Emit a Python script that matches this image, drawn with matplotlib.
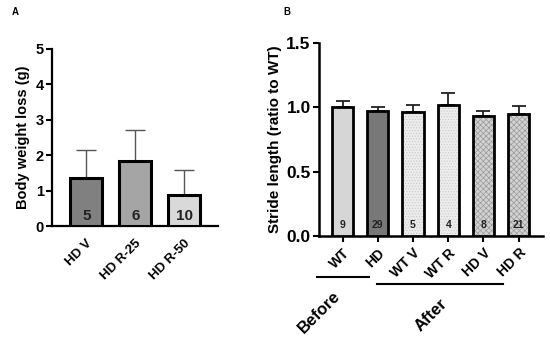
import matplotlib
matplotlib.use("Agg")
import matplotlib.pyplot as plt

plt.rcParams['font.family'] = ['Liberation Sans', 'DejaVu Sans']
plt.rcParams['font.weight'] = 'bold'
plt.rcParams['hatch.linewidth'] = 0.5

# Panel A data
a_cats = ["HD V", "HD R-25", "HD R-50"]
a_vals = [1.35, 1.83, 0.88]
a_err = [0.79, 0.89, 0.69]
a_n = ["5", "6", "10"]
a_colors = ["#808080", "#a5a5a5", "#d9d9d9"]

# Panel B data
b_cats = ["WT", "HD", "WT V", "WT R", "HD V", "HD R"]
b_vals = [1.00, 0.97, 0.965, 1.02, 0.93, 0.95]
b_err = [0.05, 0.03, 0.05, 0.09, 0.04, 0.06]
b_n = ["9", "29", "5", "4", "8", "21"]
b_colors = ["#d6d6d6", "#787878", "#ececec", "#ececec", "#d2d2d2", "#d2d2d2"]
b_hatch = [None, None, "......", "......", "xxxxxx", "xxxxxx"]
b_hatchcol = [None, None, "#c8c8c8", "#cccccc", "#9a9a9a", "#9a9a9a"]
groups = ["Before", "After"]

fig = plt.figure(figsize=(5.5, 3.37), dpi=100)

def W(px):
    return px / 550.0

def H(py):
    return 1 - py / 337.0

# ---- Panel A ----
axA = fig.add_axes([W(52), H(226), W(218 - 52), H(49) - H(226)])
xa = list(range(len(a_cats)))
axA.bar(xa, a_vals, width=0.66, color=a_colors, edgecolor="black", linewidth=2.2, zorder=3)
axA.errorbar(xa, a_vals, yerr=[[0] * 3, a_err], fmt="none", ecolor="#555555",
             elinewidth=1.0, capsize=7, capthick=1.0, zorder=2)
for x, n in zip(xa, a_n):
    axA.text(x, 0.27, n, ha="center", va="center", fontsize=11, fontweight="bold",
             color="#222222", zorder=4)
axA.set_xlim(-0.70, 2.69)
axA.set_ylim(0, 5)
axA.set_yticks([0, 1, 2, 3, 4, 5])
axA.set_xticks(xa)
axA.set_xticklabels(a_cats, rotation=45, ha="right", rotation_mode="anchor",
                    fontsize=9.5, fontweight="bold")
axA.tick_params(axis="x", length=0, pad=8)
axA.tick_params(axis="y", labelsize=10.5, width=1.5, length=4, pad=2)
for s in ["top", "right"]:
    axA.spines[s].set_visible(False)
for s in ["left", "bottom"]:
    axA.spines[s].set_linewidth(1.6)
axA.set_ylabel("Body weight loss (g)", fontsize=10.5, fontweight="bold", labelpad=4)
fig.text(W(12), H(12), "A", fontsize=7, fontweight="bold", ha="left", va="center")

# ---- Panel B ----
axB = fig.add_axes([W(319), H(236), W(543 - 319), H(43) - H(236)])
xb = list(range(len(b_cats)))
for x, v, c, h, hc in zip(xb, b_vals, b_colors, b_hatch, b_hatchcol):
    if h:
        axB.bar(x, v, width=0.6, color=c, edgecolor=hc, hatch=h, linewidth=0, zorder=3)
        axB.bar(x, v, width=0.6, fill=False, edgecolor="black", linewidth=2.0, zorder=4)
    else:
        axB.bar(x, v, width=0.6, color=c, edgecolor="black", linewidth=2.0, zorder=3)
axB.errorbar(xb, b_vals, yerr=[[0] * 6, b_err], fmt="none", ecolor="#222222",
             elinewidth=1.3, capsize=5, capthick=1.3, zorder=2)
for x, n in zip(xb, b_n):
    axB.text(x, 0.085, n, ha="center", va="center", fontsize=7.5, fontweight="bold",
             color="#222222", zorder=5)
axB.set_xlim(-0.67, 5.69)
axB.set_ylim(0, 1.5)
axB.set_yticks([0.0, 0.5, 1.0, 1.5])
axB.set_yticklabels(["0.0", "0.5", "1.0", "1.5"])
axB.set_xticks(xb)
axB.set_xticklabels(b_cats, rotation=45, ha="right", rotation_mode="anchor",
                    fontsize=10, fontweight="bold")
axB.tick_params(axis="x", length=4, width=1.5, pad=3)
axB.tick_params(axis="y", labelsize=12.5, width=1.5, length=4, pad=2)
for s in ["top", "right"]:
    axB.spines[s].set_visible(False)
for s in ["left", "bottom"]:
    axB.spines[s].set_linewidth(1.8)
axB.set_ylabel("Stride length (ratio to WT)", fontsize=11, fontweight="bold", labelpad=3)
fig.text(W(283), H(12), "B", fontsize=7, fontweight="bold", ha="left", va="center")

# group lines
fig.add_artist(plt.Line2D([W(317), W(369)], [H(277), H(277)], color="black", linewidth=1.5))
fig.add_artist(plt.Line2D([W(377), W(503)], [H(284), H(284)], color="black", linewidth=1.5))
fig.text(W(319), H(312), groups[0], rotation=45, ha="center", va="center",
         fontsize=12, fontweight="bold")
fig.text(W(431), H(315), groups[1], rotation=45, ha="center", va="center",
         fontsize=12, fontweight="bold")

fig.savefig("out.png", dpi=100)
